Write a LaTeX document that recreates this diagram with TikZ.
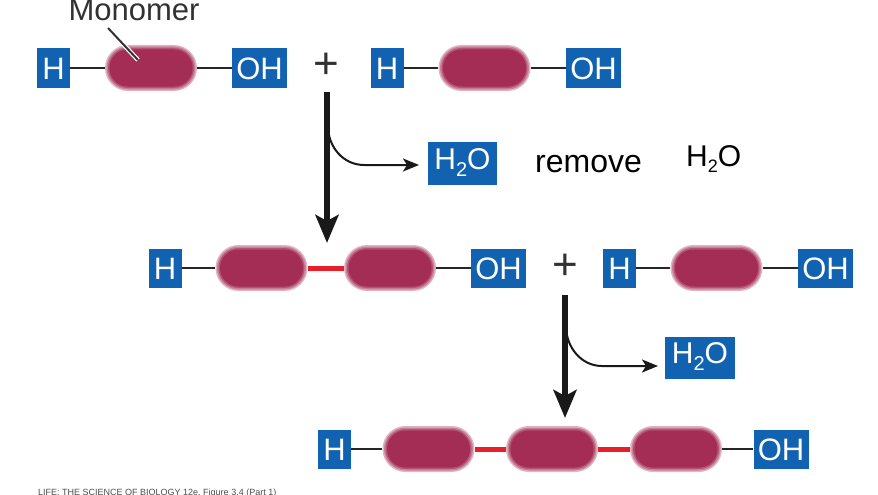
\documentclass[tikz,border=0pt]{standalone}
\usepackage{fontspec}
\setmainfont{Liberation Sans}
\usetikzlibrary{arrows.meta}
\definecolor{boxblue}{RGB}{18,98,178}
\definecolor{pillc}{RGB}{163,45,85}
\definecolor{linkred}{RGB}{232,30,40}
\definecolor{txtgray}{RGB}{50,50,50}
\newcommand\pillat[3]{%
  \node[pillA] (#1) at (#2,#3) {};
  \node[pillB] at (#2,#3) {};
  \node[pillC] at (#2,#3) {};
  \node[pillD] at (#2,#3) {};
}
\begin{document}
\begin{tikzpicture}[x=1pt,y=-1pt,
  pillA/.style={rectangle, inner sep=0pt, minimum width=92pt, minimum height=46pt, rounded corners=22.9pt, fill=pillc!35!white},
  pillB/.style={rectangle, inner sep=0pt, minimum width=89pt, minimum height=43pt, rounded corners=21.4pt, fill=pillc!60!white},
  pillC/.style={rectangle, inner sep=0pt, minimum width=86pt, minimum height=40pt, rounded corners=19.9pt, fill=pillc!82!white},
  pillD/.style={rectangle, inner sep=0pt, minimum width=83pt, minimum height=37pt, rounded corners=18.4pt, fill=pillc},
  hbox/.style={rectangle, fill=boxblue, text=white, inner sep=0pt, minimum height=39pt, text height=22pt, text depth=0pt, font=\fontsize{31}{31}\selectfont},
  hb/.style={hbox, minimum width=33pt},
  ohb/.style={hbox, minimum width=55pt},
  wbox/.style={hbox, minimum width=69pt, minimum height=43pt, text height=21.5pt, text depth=10pt, font=\fontsize{30}{30}\selectfont},
  bond/.style={line width=2pt, black!85},
  link/.style={line width=5pt, linkred},
  bigarrow/.style={line width=6pt, black!90, -{Stealth[length=28pt,width=23pt,inset=6pt]}},
  smallarrow/.style={line width=2pt, black!90, -{Stealth[length=16pt,width=13pt,inset=4pt]}},
  plus/.style={font=\fontsize{44}{44}\selectfont, text=txtgray, inner sep=0pt},
  hand/.style={inner sep=0pt, text=black}
]
\useasboundingbox (0,0) rectangle (878,495);

% ---- row 1 ----
\node[hb] (h1) at (53.5,68) {H};
\pillat{m1}{151}{68}
\node[ohb] (oh1) at (259.5,68) {OH};
\draw[bond] (h1.east) -- (m1.west);
\draw[bond] (m1.east) -- (oh1.west);

\node[plus] (p1) at (326,66) {+};

\node[hb] (h2) at (387,68) {H};
\pillat{m2}{484.5}{68}
\node[ohb] (oh2) at (593.5,68) {OH};
\draw[bond] (h2.east) -- (m2.west);
\draw[bond] (m2.east) -- (oh2.west);

\node[font=\fontsize{31}{31}\selectfont, text=txtgray, anchor=base, inner sep=0pt] (mono) at (134,21) {Monomer};
\coordinate (lead1) at (108,28);
\coordinate (lead2) at (138,60);
\draw[line width=4.5pt, white] (lead1) -- (lead2);
\draw[line width=2pt, txtgray] (lead1) -- (lead2);

% ---- arrow 1 ----
\coordinate (a1s) at (327,92);
\coordinate (a1e) at (327,243);
\draw[bigarrow] (a1s) -- (a1e);
\node[wbox] (w1) at (462.5,163.5) {H\raisebox{-7pt}{\fontsize{20}{20}\selectfont 2}O};
\coordinate (b1s) at (328,126);
\coordinate (b1m) at (364,165);
\coordinate (b1e) at (419,165);
\draw[smallarrow] (b1s) to[out=-90,in=180] (b1m) -- (b1e);

\node[hand, anchor=base west, font=\fontsize{32}{32}\selectfont] (rm) at (535,172) {remove};
\node[hand, anchor=base west, font=\fontsize{30}{30}\selectfont] (rmh) at (686,166) {H\raisebox{-6pt}{\fontsize{18}{18}\selectfont 2}O};

% ---- row 2 ----
\node[hb] (h3) at (165,268) {H};
\pillat{m3}{261.5}{268}
\pillat{m4}{390}{268}
\node[ohb] (oh3) at (498.5,268) {OH};
\draw[bond] (h3.east) -- (m3.west);
\draw[link] (m3.east) -- (m4.west);
\draw[bond] (m4.east) -- (oh3.west);

\node[plus] (p2) at (565,267) {+};

\node[hb] (h4) at (619.5,268) {H};
\pillat{m5}{716.5}{268}
\node[ohb] (oh4) at (825.5,268) {OH};
\draw[bond] (h4.east) -- (m5.west);
\draw[bond] (m5.east) -- (oh4.west);

% ---- arrow 2 ----
\coordinate (a2s) at (565,295);
\coordinate (a2e) at (565,418);
\draw[bigarrow] (a2s) -- (a2e);
\node[wbox, minimum width=70pt, minimum height=42pt] (w2) at (700,358) {H\raisebox{-7pt}{\fontsize{20}{20}\selectfont 2}O};
\coordinate (b2s) at (566,326);
\coordinate (b2m) at (602,366);
\coordinate (b2e) at (658,366);
\draw[smallarrow] (b2s) to[out=-90,in=180] (b2m) -- (b2e);

% ---- row 3 ----
\node[hb] (h5) at (334.5,449) {H};
\pillat{m6}{428.5}{449}
\pillat{m7}{552}{449}
\pillat{m8}{676}{449}
\node[ohb] (oh5) at (781,449) {OH};
\draw[bond] (h5.east) -- (m6.west);
\draw[link] (m6.east) -- (m7.west);
\draw[link] (m7.east) -- (m8.west);
\draw[bond] (m8.east) -- (oh5.west);

% ---- credit line (cut off at the bottom, as in the reference) ----
\node[anchor=north west, inner sep=0pt, font=\fontsize{9}{9}\selectfont, text=black!70] (credit) at (38,489) {LIFE: THE SCIENCE OF BIOLOGY 12e, Figure 3.4 (Part 1)};
\end{tikzpicture}
\end{document}
